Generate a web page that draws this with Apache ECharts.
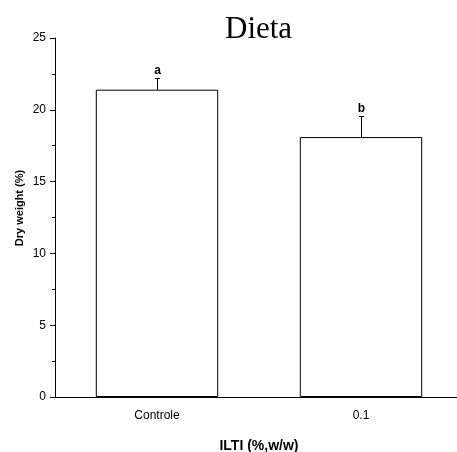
<!DOCTYPE html>
<html>
<head>
<meta charset="utf-8">
<script src="https://cdn.jsdelivr.net/npm/echarts@6/dist/echarts.min.js"></script>
<style>html,body{margin:0;padding:0;background:#fff}#c{width:457px;height:452px}</style>
</head>
<body>
<div id="c"></div>
<script>
const categories = ['Controle', '0.1'];
const values = [21.4, 18.1];
const errors = [0.8, 1.5];
const letters = ['a', 'b'];
const yTicks = [0, 5, 10, 15, 20, 25];
const yName = 'Dry weight (%)';

const chart = echarts.init(document.getElementById('c'));
const errData = values.map((v, i) => [i, v, errors[i]]);

chart.setOption({
  animation: false,
  backgroundColor: '#fff',
  title: {
    text: 'Dieta', left: 220, top: 9,
    textStyle: { fontFamily: 'Liberation Serif', fontSize: 31, fontWeight: 'normal', color: '#000' }
  },
  graphic: [{
    type: 'text', x: 20, y: 208, rotation: Math.PI / 2,
    style: { text: yName, align: 'center', verticalAlign: 'middle',
      fontFamily: 'Liberation Sans', fontSize: 11, fontWeight: 'bold', fill: '#000' }
  }],
  grid: { left: 55, top: 38, width: 408, height: 359, containLabel: false, outerBoundsMode: 'none' },
  xAxis: [{
    type: 'category', data: categories, position: 'bottom',
    axisLine: { lineStyle: { color: '#000', width: 1 } },
    axisTick: { alignWithLabel: true, length: 5, lineStyle: { color: '#000' } },
    axisLabel: { color: '#000', fontFamily: 'Liberation Sans', fontSize: 12, margin: 13 },
    name: 'ILTI (%,w/w)', nameLocation: 'middle', nameGap: 42,
    nameTextStyle: { fontFamily: 'Liberation Sans', fontSize: 14, fontWeight: 'bold', color: '#000' }
  }, {
    type: 'category', data: categories, position: 'bottom',
    axisLine: { show: false },
    axisTick: { alignWithLabel: false, length: 3, lineStyle: { color: '#000' } },
    axisLabel: { show: false }
  }],
  yAxis: {
    type: 'value', min: 0, max: 25, interval: 5,
    axisLine: { show: true, lineStyle: { color: '#000', width: 1 } },
    axisTick: { show: true, length: 5, lineStyle: { color: '#000' } },
    minorTick: { show: true, splitNumber: 2, length: 3, lineStyle: { color: '#000' } },
    splitLine: { show: false },
    axisLabel: { color: '#000', fontFamily: 'Liberation Sans', fontSize: 12, margin: 9,
      formatter: v => yTicks.includes(v) ? String(v) : '' }
  },
  series: [{
    type: 'bar', data: values, barWidth: '60%', xAxisIndex: 0,
    itemStyle: { color: '#fff', borderColor: '#000', borderWidth: 1 }
  }, {
    type: 'custom', xAxisIndex: 0, data: errData, z: 5,
    renderItem: (params, api) => {
      const x = api.value(0), v = api.value(1), e = api.value(2);
      const b = api.coord([x, v]);
      const t = api.coord([x, v + e]);
      const cx = Math.round(b[0]) + 0.5;
      const ty = Math.round(t[1]) + 0.5;
      return {
        type: 'group',
        children: [
          { type: 'line', shape: { x1: cx, y1: b[1], x2: cx, y2: ty }, style: { stroke: '#000', lineWidth: 1 } },
          { type: 'line', shape: { x1: cx - 2.5, y1: ty, x2: cx + 2.5, y2: ty }, style: { stroke: '#000', lineWidth: 1 } },
          { type: 'text', style: { text: letters[params.dataIndex], x: cx, y: ty - 2, align: 'center', verticalAlign: 'bottom',
            fontFamily: 'Liberation Sans', fontSize: 12, fontWeight: 'bold', fill: '#000' } }
        ]
      };
    }
  }]
});
</script>
</body>
</html>
